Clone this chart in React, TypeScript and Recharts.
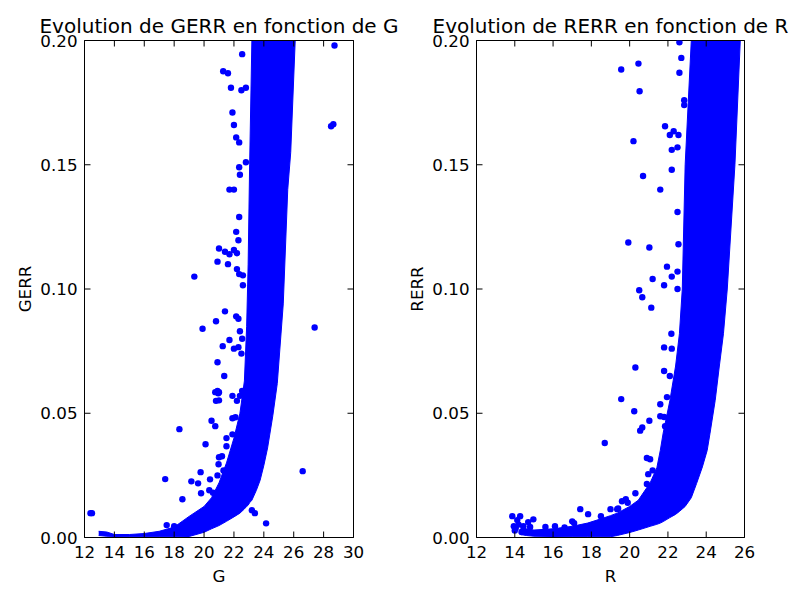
import { Area, ComposedChart, Scatter, XAxis, YAxis } from "recharts";

const FONT = "'DejaVu Sans', sans-serif";
const BLUE = "#0000ff";

const gTicks = [12, 14, 16, 18, 20, 22, 24, 26, 28, 30];
const rTicks = [12, 14, 16, 18, 20, 22, 24, 26];
const errTicks = [0, 0.05, 0.1, 0.15, 0.2];

// dense cloud of GERR vs G, read as its lower and upper edge
const gBandX = [12.95, 13.5, 14, 15, 16, 17, 18, 19, 20, 20.5, 21, 21.5, 22, 22.4, 22.7, 22.85, 22.95, 23.05, 23.2, 23.5, 23.75, 24, 24.25, 24.6, 24.9, 25.3, 25.6, 25.8, 26.1];
const gBandLow = [0.0008, 0.0005, 0.0004, 0.0003, 0.0003, 0.0003, 0.0003, 0.0004, 0.0021, 0.0035, 0.0048, 0.0065, 0.0083, 0.0098, 0.0115, 0.0125, 0.013, 0.014, 0.015, 0.019, 0.023, 0.029, 0.036, 0.049, 0.062, 0.094, 0.14, 0.155, 0.2];
const gBandHigh = [0.0025, 0.0022, 0.0012, 0.0012, 0.0016, 0.0025, 0.0042, 0.0085, 0.0125, 0.016, 0.022, 0.03, 0.04, 0.05, 0.063, 0.085, 0.11, 0.15, 0.2, 0.2, 0.2, 0.2, 0.2, 0.2, 0.2, 0.2, 0.2, 0.2, 0.2];

const gOutliers: [number, number][] = [
  [22.55, 0.1945], [28.73, 0.198], [21.28, 0.1876], [21.6, 0.1868], [21.8, 0.181],
  [22.5, 0.18], [22.8, 0.181], [21.9, 0.171], [22.0, 0.166], [28.5, 0.1655],
  [28.65, 0.1663], [22.15, 0.161], [22.35, 0.159], [22.35, 0.149], [22.4, 0.146],
  [22.8, 0.151], [21.7, 0.14], [22.0, 0.14], [22.35, 0.129], [22.15, 0.123],
  [22.3, 0.1196], [21.0, 0.1163], [21.4, 0.115], [21.7, 0.114], [22.0, 0.1157],
  [22.2, 0.1144], [20.9, 0.111], [21.6, 0.11], [22.2, 0.108], [22.35, 0.106],
  [22.6, 0.1055], [19.35, 0.105], [22.6, 0.1015], [21.4, 0.091], [19.9, 0.084],
  [20.8, 0.087], [22.15, 0.089], [22.3, 0.088], [27.4, 0.0845], [22.4, 0.083],
  [22.55, 0.08], [21.7, 0.0795], [21.25, 0.077], [22.0, 0.076], [22.3, 0.0766],
  [22.5, 0.074], [20.9, 0.0705], [21.35, 0.065], [20.75, 0.0585], [20.9, 0.059],
  [20.95, 0.058], [21.0, 0.0585], [20.8, 0.055], [21.0, 0.0552], [21.9, 0.057],
  [22.2, 0.055], [22.4, 0.057], [22.55, 0.059], [20.5, 0.047], [20.75, 0.0448],
  [21.9, 0.048], [22.1, 0.0484], [18.35, 0.0436], [21.9, 0.0415], [21.5, 0.04],
  [21.5, 0.0367], [20.1, 0.0375], [21.0, 0.0323], [21.2, 0.0327], [20.97, 0.0295],
  [21.3, 0.027], [21.4, 0.0267], [26.6, 0.0267], [19.77, 0.0263], [20.9, 0.025],
  [17.4, 0.0235], [19.15, 0.0226], [20.4, 0.0234], [19.6, 0.0218], [20.35, 0.019],
  [20.6, 0.018], [19.8, 0.0178], [18.55, 0.0154], [23.2, 0.011], [23.4, 0.0098],
  [12.4, 0.0098], [12.5, 0.0098], [24.15, 0.0057], [17.5, 0.005], [18.0, 0.0045],
];

// dense cloud of RERR vs R
const rBandX = [14.3, 14.6, 15, 16, 17, 17.8, 18.5, 19, 19.35, 20, 20.45, 21.07, 21.42, 21.6, 21.75, 22.1, 22.4, 22.6, 22.75, 22.9, 23.22, 23.5, 23.8, 24.05, 24.2, 24.47, 24.68, 24.9, 25.1, 25.5, 25.78];
const rBandLow = [0.0012, 0.0008, 0.0005, 0.0004, 0.0003, 0.0003, 0.0003, 0.0003, 0.0008, 0.002, 0.003, 0.0045, 0.0053, 0.0058, 0.0064, 0.008, 0.0093, 0.0105, 0.0115, 0.0125, 0.016, 0.0218, 0.0284, 0.035, 0.042, 0.0552, 0.0686, 0.082, 0.1, 0.15, 0.2];
const rBandHigh = [0.004, 0.0035, 0.003, 0.0035, 0.0045, 0.0058, 0.0075, 0.0088, 0.0098, 0.0125, 0.015, 0.022, 0.028, 0.035, 0.042, 0.055, 0.069, 0.082, 0.1, 0.15, 0.2, 0.2, 0.2, 0.2, 0.2, 0.2, 0.2, 0.2, 0.2, 0.2, 0.2];

const rOutliers: [number, number][] = [
  [19.56, 0.1883], [20.46, 0.1907], [20.52, 0.1796], [22.6, 0.1993], [22.7, 0.193],
  [22.6, 0.187], [22.85, 0.176], [22.85, 0.174], [21.85, 0.1655], [22.1, 0.162],
  [22.3, 0.1635], [22.55, 0.162], [20.2, 0.1595], [22.2, 0.156], [22.5, 0.157],
  [20.7, 0.1455], [22.2, 0.148], [21.6, 0.14], [22.5, 0.131], [19.93, 0.1187],
  [21.03, 0.1167], [22.55, 0.118], [21.95, 0.109], [22.5, 0.107], [22.2, 0.105],
  [21.2, 0.104], [21.8, 0.1015], [20.5, 0.0995], [20.66, 0.0967], [22.5, 0.1],
  [21.13, 0.0925], [22.18, 0.082], [21.8, 0.0765], [22.2, 0.076], [20.3, 0.0684],
  [21.8, 0.067], [22.1, 0.065], [21.95, 0.0565], [19.56, 0.0557], [21.6, 0.0536],
  [20.24, 0.0508], [21.03, 0.047], [21.6, 0.0488], [21.8, 0.0485], [20.66, 0.0443],
  [20.55, 0.043], [21.85, 0.0448], [18.7, 0.038], [20.9, 0.032], [21.07, 0.0315],
  [21.2, 0.027], [20.97, 0.0255], [20.9, 0.0215], [20.3, 0.0178], [19.6, 0.0146],
  [19.8, 0.0154], [19.9, 0.014], [19.0, 0.0114], [19.35, 0.0114], [19.4, 0.0117],
  [17.42, 0.0114], [17.83, 0.0094], [18.5, 0.0086], [13.87, 0.0086], [14.28, 0.0086],
  [14.13, 0.007], [14.97, 0.0073], [14.7, 0.0062], [17.0, 0.0065], [17.1, 0.0058],
  [13.95, 0.0045], [14.05, 0.0038], [14.2, 0.0052], [14.45, 0.0045], [14.8, 0.0042],
  [14.0, 0.0028], [14.35, 0.0022], [15.6, 0.0042], [16.1, 0.0045], [16.6, 0.004],
];

const W = 400;
const H = 600;
const TICK_LEN = 6;

type TickProps = { x?: number; y?: number; payload?: { value: number } };

const fmtX = (v: number) => String(v);
const fmtY = (v: number) => v.toFixed(2);

function makeTick(side: "bottom" | "top" | "left" | "right") {
  return function Tick({ x = 0, y = 0, payload }: TickProps) {
    const v = payload?.value ?? 0;
    if (side === "bottom") {
      return (
        <g>
          <line x1={x} x2={x} y1={y} y2={y - TICK_LEN} stroke="#000" />
          <text x={x} y={y + 20} textAnchor="middle" fontFamily={FONT} fontSize={16.7} fill="#000">
            {fmtX(v)}
          </text>
        </g>
      );
    }
    if (side === "top") {
      return <line x1={x} x2={x} y1={y} y2={y + TICK_LEN} stroke="#000" />;
    }
    if (side === "left") {
      return (
        <g>
          <line x1={x} x2={x + TICK_LEN} y1={y} y2={y} stroke="#000" />
          <text x={x - 7} y={y + 6} textAnchor="end" fontFamily={FONT} fontSize={16.7} fill="#000">
            {fmtY(v)}
          </text>
        </g>
      );
    }
    return <line x1={x} x2={x - TICK_LEN} y1={y} y2={y} stroke="#000" />;
  };
}

function Dot({ cx, cy }: { cx?: number; cy?: number }) {
  return <circle cx={cx} cy={cy} r={3.2} fill={BLUE} />;
}

type PanelProps = {
  left: number;
  plotLeft: number;
  plotRight: number;
  domain: [number, number];
  ticks: number[];
  bandX: number[];
  bandLow: number[];
  bandHigh: number[];
  outliers: [number, number][];
  title: string;
  xLabel: string;
  yLabel: string;
  yLabelX: number;
};

const PLOT_TOP = 40.5;
const PLOT_BOTTOM = 537.5;

function Panel(p: PanelProps) {
  const band = p.bandX.map((x, i) => ({ x, band: [p.bandLow[i], p.bandHigh[i]] }));
  const points = p.outliers.map(([x, y]) => ({ x, y }));
  const yAxisW = 60;
  const centerX = (p.plotLeft + p.plotRight) / 2;
  const centerY = (PLOT_TOP + PLOT_BOTTOM) / 2;
  const axisLine = { stroke: "#000", strokeWidth: 1 };
  return (
    <div style={{ position: "absolute", left: p.left, top: 0, width: W, height: H }}>
      <ComposedChart
        width={W}
        height={H}
        data={band}
        margin={{
          top: PLOT_TOP - 1,
          bottom: H - PLOT_BOTTOM - 40,
          left: p.plotLeft - yAxisW,
          right: W - p.plotRight - 1,
        }}
      >
        <XAxis
          xAxisId="b"
          type="number"
          dataKey="x"
          domain={p.domain}
          ticks={p.ticks}
          interval={0}
          allowDataOverflow
          height={40}
          tickSize={0}
          tickMargin={0}
          tickLine={false}
          axisLine={axisLine}
          tick={makeTick("bottom")}
        />
        <XAxis
          xAxisId="t"
          orientation="top"
          type="number"
          dataKey="x"
          domain={p.domain}
          ticks={p.ticks}
          interval={0}
          allowDataOverflow
          height={1}
          tickSize={0}
          tickMargin={0}
          tickLine={false}
          axisLine={axisLine}
          tick={makeTick("top")}
        />
        <YAxis
          yAxisId="l"
          type="number"
          dataKey="y"
          domain={[0, 0.2]}
          ticks={errTicks}
          interval={0}
          allowDataOverflow
          width={yAxisW}
          tickSize={0}
          tickMargin={0}
          tickLine={false}
          axisLine={axisLine}
          tick={makeTick("left")}
        />
        <YAxis
          yAxisId="r"
          orientation="right"
          type="number"
          dataKey="y"
          domain={[0, 0.2]}
          ticks={errTicks}
          interval={0}
          allowDataOverflow
          width={1}
          tickSize={0}
          tickMargin={0}
          tickLine={false}
          axisLine={axisLine}
          tick={makeTick("right")}
        />
        <Area
          xAxisId="b"
          yAxisId="l"
          type="linear"
          dataKey="band"
          stroke={BLUE}
          strokeWidth={1}
          fill={BLUE}
          fillOpacity={1}
          isAnimationActive={false}
        />
        <Scatter
          xAxisId="b"
          yAxisId="l"
          data={points}
          dataKey="y"
          fill={BLUE}
          shape={<Dot />}
          isAnimationActive={false}
        />
        <text x={centerX} y={33} textAnchor="middle" fontFamily={FONT} fontSize={20} fill="#000">
          {p.title}
        </text>
        <text x={centerX} y={582} textAnchor="middle" fontFamily={FONT} fontSize={16.7} fill="#000">
          {p.xLabel}
        </text>
        <text
          x={p.yLabelX}
          y={centerY}
          textAnchor="middle"
          fontFamily={FONT}
          fontSize={16.7}
          fill="#000"
          transform={`rotate(-90 ${p.yLabelX} ${centerY})`}
        >
          {p.yLabel}
        </text>
      </ComposedChart>
    </div>
  );
}

export default function App() {
  return (
    <div style={{ position: "absolute", left: 0, top: 0, width: 800, height: 600, background: "#fff" }}>
      <Panel
        left={0}
        plotLeft={84.5}
        plotRight={353.5}
        domain={[12, 30]}
        ticks={gTicks}
        bandX={gBandX}
        bandLow={gBandLow}
        bandHigh={gBandHigh}
        outliers={gOutliers}
        title="Evolution de GERR en fonction de G"
        xLabel="G"
        yLabel="GERR"
        yLabelX={31}
      />
      <Panel
        left={400}
        plotLeft={76.5}
        plotRight={344.5}
        domain={[12, 26]}
        ticks={rTicks}
        bandX={rBandX}
        bandLow={rBandLow}
        bandHigh={rBandHigh}
        outliers={rOutliers}
        title="Evolution de RERR en fonction de R"
        xLabel="R"
        yLabel="RERR"
        yLabelX={23}
      />
    </div>
  );
}
